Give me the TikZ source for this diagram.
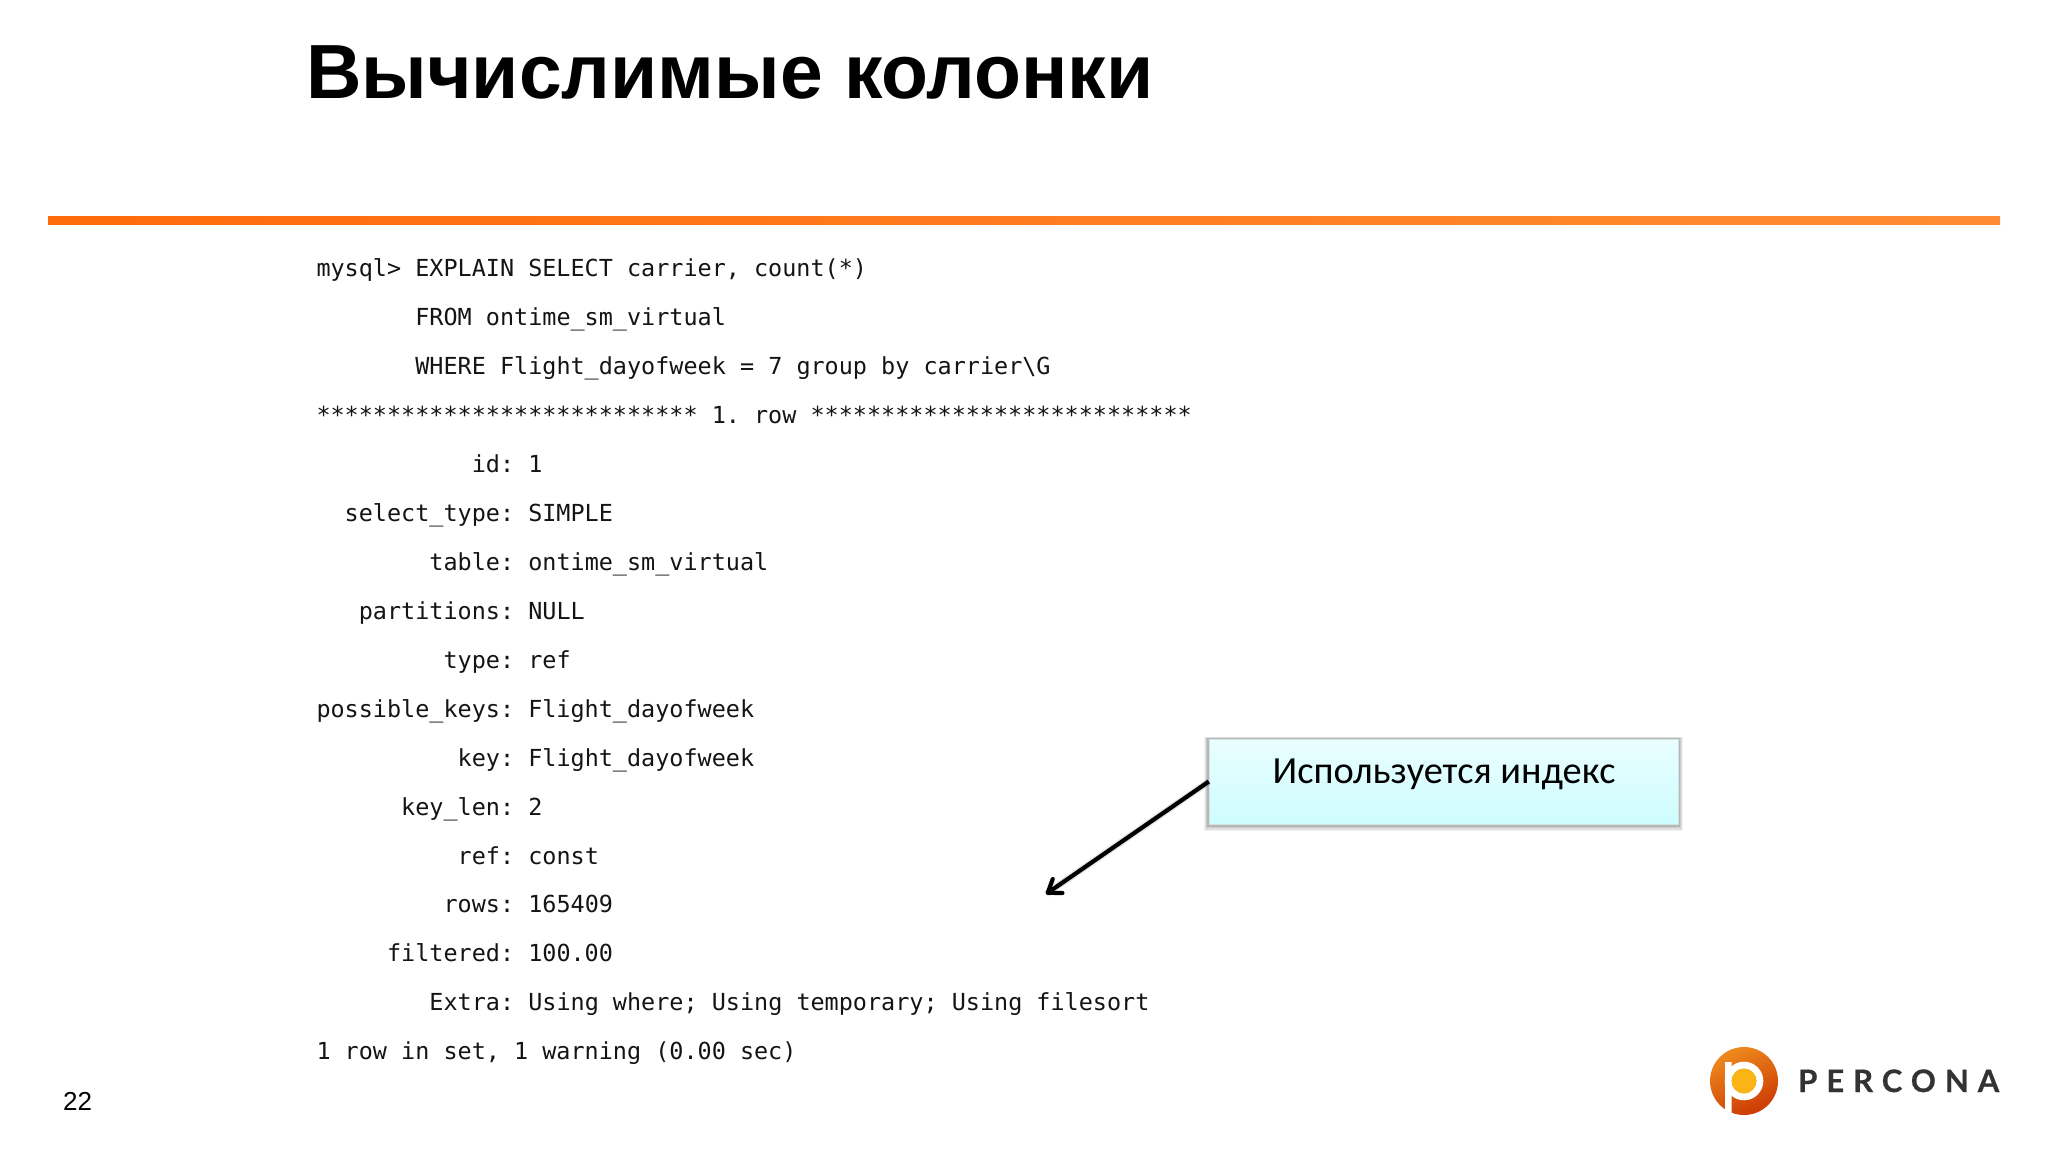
\documentclass[tikz,border=0pt]{standalone}
\usepackage{fontspec}
\setmainfont{Liberation Sans}
\newfontfamily\titlefont{Liberation Sans}
\newfontfamily\codefont{DejaVu Sans Mono}
\newfontfamily\boxfont{Carlito}
\newfontfamily\logofont[LetterSpace=29,FakeBold=0.6]{Lato Bold}
\usetikzlibrary{arrows.meta}
\definecolor{rule1}{HTML}{FF6A0A}
\definecolor{rule2}{HTML}{FF8C33}
\definecolor{boxtop}{HTML}{E9FEFF}
\definecolor{boxbot}{HTML}{CEFDFF}
\definecolor{boxedge}{HTML}{CFE6E4}
\definecolor{logotop}{HTML}{EE8A1E}
\definecolor{logobot}{HTML}{CC3A04}
\definecolor{logoyel}{HTML}{FBB416}
\definecolor{logotext}{HTML}{333333}
\tikzset{
  codeline/.style={anchor=base west,inner sep=0pt,font=\codefont\fontsize{23.45}{28}\selectfont,text=black!92},
}
\newcommand{\cl}[4]{\node[codeline] (#1) at ({316.3+14.12*#3},{276.6+48.95*#2}) {\frenchspacing #4};}
\begin{document}
\begin{tikzpicture}[x=1pt,y=-1pt]
\useasboundingbox (0,0) rectangle (2048,1152);
\fill[white] (0,0) rectangle (2048,1152);
\node[anchor=base west,inner sep=0pt,font=\titlefont\bfseries\fontsize{76.8}{90}\selectfont] (title) at (306,98) {Вычислимые колонки};
\shade[left color=rule1,right color=rule2] (48,216.5) rectangle (2000,224.5);
\cl{a0}{0}{0}{mysql> EXPLAIN SELECT carrier, count(*)}
\cl{a1}{1}{7}{FROM ontime\_sm\_virtual}
\cl{a2}{2}{7}{WHERE Flight\_dayofweek = 7 group by carrier\textbackslash G}
\cl{a3}{3}{0}{*************************** 1. row ***************************}
\cl{a4}{4}{11}{id: 1}
\cl{a5}{5}{2}{select\_type: SIMPLE}
\cl{a6}{6}{8}{table: ontime\_sm\_virtual}
\cl{a7}{7}{3}{partitions: NULL}
\cl{a8}{8}{9}{type: ref}
\cl{a9}{9}{0}{possible\_keys: Flight\_dayofweek}
\cl{a10}{10}{10}{key: Flight\_dayofweek}
\cl{a11}{11}{6}{key\_len: 2}
\cl{a12}{12}{10}{ref: const}
\cl{a13}{13}{9}{rows: 165409}
\cl{a14}{14}{5}{filtered: 100.00}
\cl{a15}{15}{8}{Extra: Using where; Using temporary; Using filesort}
\cl{a16}{16}{0}{1 row in set, 1 warning (0.00 sec)}
% callout
\foreach \o/\t in {7/.05,5.5/.07,4/.09,2.5/.1}{
  \fill[black,opacity=\t] (1209-\o*0.7,739-\o*0.3) rectangle (1678+\o*0.7,824+\o);
}
\shade[top color=boxtop,bottom color=boxbot,draw=boxedge,line width=1pt] (1209,739) rectangle (1678,824);
\node[inner sep=0pt,minimum width=469pt,minimum height=85pt] (callout) at (1443.5,781.5) {};
\node[anchor=base,inner sep=0pt,font=\boxfont\fontsize{38.4}{44}\selectfont] (calloutlabel) at (1444,783) {Используется индекс};
\coordinate (tip) at (1046,894);
\draw[black,opacity=.10,line width=7pt,shift={(0,4)}] (callout.west) -- (tip);
\draw[line width=4.2pt,-{Straight Barb[length=12pt,width=17pt,line width=4.2pt,round]}] (callout.west) -- (tip);
% page number
\node[anchor=base west,inner sep=0pt,font=\fontsize{26}{30}\selectfont] (page) at (63,1110) {22};
% logo
\shade[top color=logotop,bottom color=logobot,shading angle=25] (1744,1081) circle (34);
\fill[white] (1725,1062) -- (1731.7,1062) -- (1731.7,1113.5) -- (1725,1110.5) -- cycle;
\fill[white,even odd rule] (1744,1081) circle (19.3) circle (12.4);
\fill[logoyel] (1744,1081) circle (12.4);
\node[anchor=base west,inner sep=0pt,font=\logofont\fontsize{31}{34}\selectfont,text=logotext] (brand) at (1798,1092) {PERCONA};
\end{tikzpicture}
\end{document}
